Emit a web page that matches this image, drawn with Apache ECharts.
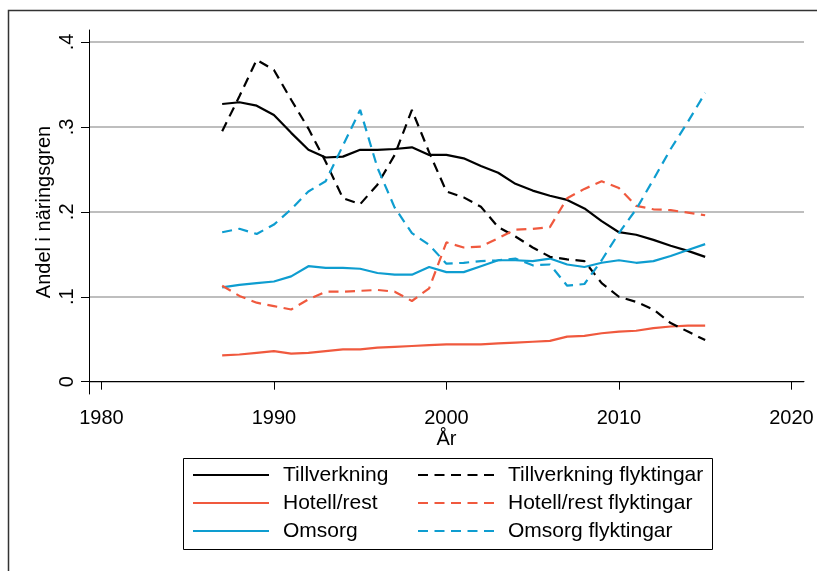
<!DOCTYPE html>
<html>
<head>
<meta charset="utf-8">
<title>Andel i näringsgren</title>
<script src="https://cdn.jsdelivr.net/npm/echarts@6/dist/echarts.min.js"></script>
<style>
html, body { margin: 0; padding: 0; background: #fff; }
#main { width: 817px; height: 571px; }
</style>
</head>
<body>
<div id="main"></div>
<script>
var years = [1987, 1988, 1989, 1990, 1991, 1992, 1993, 1994, 1995, 1996, 1997, 1998, 1999, 2000,
	2001, 2002, 2003, 2004, 2005, 2006, 2007, 2008, 2009, 2010, 2011, 2012, 2013, 2014, 2015];

var tillverkning = [0.327, 0.329, 0.325, 0.314, 0.293, 0.273, 0.264, 0.265, 0.273, 0.273, 0.274, 0.276, 0.267, 0.267,
	0.263, 0.254, 0.246, 0.233, 0.225, 0.219, 0.214, 0.204, 0.189, 0.176, 0.173, 0.167, 0.160, 0.154, 0.147];
var hotell = [0.031, 0.032, 0.034, 0.036, 0.033, 0.034, 0.036, 0.038, 0.038, 0.040, 0.041, 0.042, 0.043, 0.044,
	0.044, 0.044, 0.045, 0.046, 0.047, 0.048, 0.053, 0.054, 0.057, 0.059, 0.060, 0.063, 0.065, 0.066, 0.066];
var omsorg = [0.111, 0.114, 0.116, 0.118, 0.124, 0.136, 0.134, 0.134, 0.133, 0.128, 0.126, 0.126, 0.135, 0.129,
	0.129, 0.136, 0.143, 0.143, 0.142, 0.145, 0.138, 0.135, 0.140, 0.143, 0.140, 0.142, 0.148, 0.155, 0.162];
var tillverkningFlykt = [0.295, 0.336, 0.379, 0.367, 0.332, 0.298, 0.259, 0.216, 0.209, 0.232, 0.267, 0.320, 0.270, 0.224,
	0.217, 0.206, 0.182, 0.171, 0.158, 0.147, 0.144, 0.142, 0.116, 0.100, 0.094, 0.085, 0.069, 0.059, 0.049];
var hotellFlykt = [0.113, 0.101, 0.093, 0.089, 0.085, 0.097, 0.106, 0.106, 0.107, 0.108, 0.106, 0.095, 0.110, 0.164,
	0.158, 0.159, 0.169, 0.179, 0.180, 0.182, 0.216, 0.227, 0.236, 0.228, 0.207, 0.203, 0.202, 0.199, 0.196];
var omsorgFlykt = [0.176, 0.180, 0.174, 0.185, 0.203, 0.224, 0.236, 0.278, 0.320, 0.252, 0.205, 0.175, 0.161, 0.139,
	0.140, 0.142, 0.143, 0.145, 0.137, 0.138, 0.113, 0.115, 0.143, 0.175, 0.203, 0.238, 0.274, 0.306, 0.340];

var xTicks = [1980, 1990, 2000, 2010, 2020];
var yTicks = [0, 0.1, 0.2, 0.3, 0.4];

var FONT = 'Liberation Sans, Arial, Helvetica, sans-serif';
var BLACK = '#000000', RED = '#f0593e', BLUE = '#0e9dd0';
var DASH = [10, 6.5];

function pairs(vals) {
	var out = [];
	for (var i = 0; i < years.length; i++) out.push([years[i], vals[i]]);
	return out;
}

function line(name, vals, color, dashed) {
	return {
		name: name,
		type: 'line',
		data: pairs(vals),
		symbol: 'none',
		silent: true,
		lineStyle: { color: color, width: 2.2, type: dashed ? DASH : 'solid' },
		itemStyle: { color: color }
	};
}

function legendBox(names, left) {
	return {
		data: names,
		orient: 'vertical',
		left: left,
		top: 464,
		padding: 0,
		itemWidth: 76,
		itemHeight: 14,
		itemGap: 6,
		selectedMode: false,
		itemStyle: { opacity: 0 },   // hide the symbol, keep the line
		textStyle: { fontSize: 21, color: BLACK, fontFamily: FONT, lineHeight: 22, padding: [0, 0, 0, 9] }
	};
}

var myChart = echarts.init(document.getElementById('main'));

var option = {
	animation: false,
	backgroundColor: '#ffffff',
	textStyle: { fontFamily: FONT },
	grid: { left: 89, right: 13, top: 30, bottom: 177, containLabel: false, outerBoundsMode: 'none' },
	xAxis: {
		type: 'value',
		min: 1979.28,
		max: 2020.73,
		name: 'År',
		nameLocation: 'middle',
		nameGap: 35,
		nameMoveOverlap: false,
		nameTextStyle: { fontSize: 20, color: BLACK, fontFamily: FONT },
		axisLine: { show: true, lineStyle: { color: BLACK, width: 1 } },
		axisTick: { show: true, length: 8, customValues: xTicks, lineStyle: { color: BLACK, width: 1 } },
		axisLabel: {
			customValues: xTicks, fontSize: 20, color: BLACK, fontFamily: FONT, margin: 14,
			formatter: function (v) { return String(Math.round(v)); }
		},
		splitLine: { show: false }
	},
	yAxis: {
		type: 'value',
		min: -0.0145,
		max: 0.4141,
		name: 'Andel i näringsgren',
		nameLocation: 'middle',
		nameGap: 35,
		nameMoveOverlap: false,
		nameTextStyle: { fontSize: 20, color: BLACK, fontFamily: FONT },
		axisLine: { show: true, lineStyle: { color: BLACK, width: 1 } },
		axisTick: { show: true, length: 8, customValues: yTicks, lineStyle: { color: BLACK, width: 1 } },
		axisLabel: {
			customValues: yTicks,
			rotate: 90,
			fontSize: 20,
			color: BLACK,
			fontFamily: FONT,
			margin: 12,
			formatter: function (v) {
				if (Math.abs(v) < 1e-9) return '0';
				return '.' + Math.round(v * 10);
			}
		},
		splitLine: { show: true, lineStyle: { color: '#a8a8a8', width: 1.5 } }
	},
	legend: [
		legendBox(['Tillverkning', 'Hotell/rest', 'Omsorg'], 192),
		legendBox(['Tillverkning flyktingar', 'Hotell/rest flyktingar', 'Omsorg flyktingar'], 417)
	],
	graphic: [
		// outer frame
		{ type: 'rect', silent: true, z: -10, shape: { x: 8.5, y: 10.5, width: 900, height: 700 },
			style: { fill: 'none', stroke: '#333333', lineWidth: 1.5 } },
		// legend box
		{ type: 'rect', silent: true, shape: { x: 183.5, y: 458.5, width: 529, height: 91 },
			style: { fill: 'none', stroke: BLACK, lineWidth: 1 } }
	],
	series: [
		line('Tillverkning', tillverkning, BLACK, false),
		line('Hotell/rest', hotell, RED, false),
		line('Omsorg', omsorg, BLUE, false),
		line('Tillverkning flyktingar', tillverkningFlykt, BLACK, true),
		line('Hotell/rest flyktingar', hotellFlykt, RED, true),
		line('Omsorg flyktingar', omsorgFlykt, BLUE, true)
	]
};

myChart.setOption(option);
</script>
</body>
</html>
